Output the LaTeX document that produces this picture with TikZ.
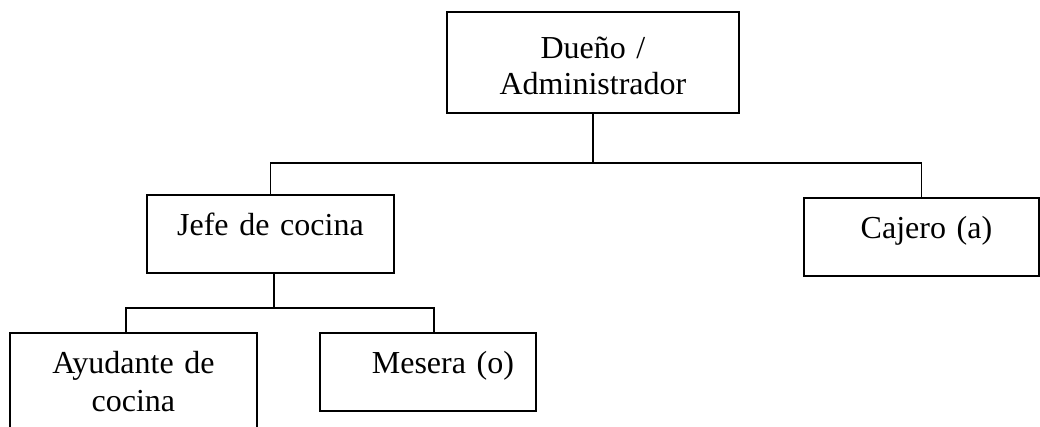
\documentclass[tikz,border=0pt]{standalone}
\usepackage{fontspec}
\setmainfont{Liberation Serif}
\usepackage{tikz}

\tikzset{
	puesto/.style={draw, line width=1.4pt, anchor=north west, inner sep=0pt, align=center,
		font=\fontsize{24}{28.5}\selectfont, text height=30.75pt},
	linea/.style={line width=1.1pt}
}

\begin{document}
\begin{tikzpicture}[x=0.75pt, y=-0.75pt]
	\useasboundingbox (0,0) rectangle (1040,426);

	\node[puesto, text width=219pt, text depth=40.5pt, text height=35.25pt,
		font=\fontsize{24}{27}\selectfont] (duenio) at (446,11) {Dueño /\\Administrador};

	\node[puesto, text width=185.25pt, text depth=27.75pt] (jefe) at (146,194) {Jefe de cocina};
	\node[puesto, text width=176.25pt, text depth=27.75pt] (cajero) at (803,197) {\hspace*{7.5pt}Cajero (a)};

	\node[puesto, text width=185.25pt, text depth=51.75pt] (ayudante) at (9,332) {Ayudante de\\cocina};
	\node[puesto, text width=162pt, text depth=27.75pt] (mesera) at (319,332) {\hspace*{22.5pt}Mesera (o)};

	% conexiones
	\coordinate (barra1) at ([yshift=-36.75pt]duenio.south);
	\coordinate (barra2) at ([xshift=2.5pt, yshift=-25.5pt]jefe.south);
	\draw[linea] (duenio.south) -- (barra1);
	\draw[linea] (jefe.north) |- (barra1) -| (cajero.north);
	\draw[linea] ([xshift=2.5pt]jefe.south) -- (barra2);
	\draw[linea] ([xshift=-5.5pt]ayudante.north) |- (barra2) -| ([xshift=4.5pt]mesera.north);
\end{tikzpicture}
\end{document}
